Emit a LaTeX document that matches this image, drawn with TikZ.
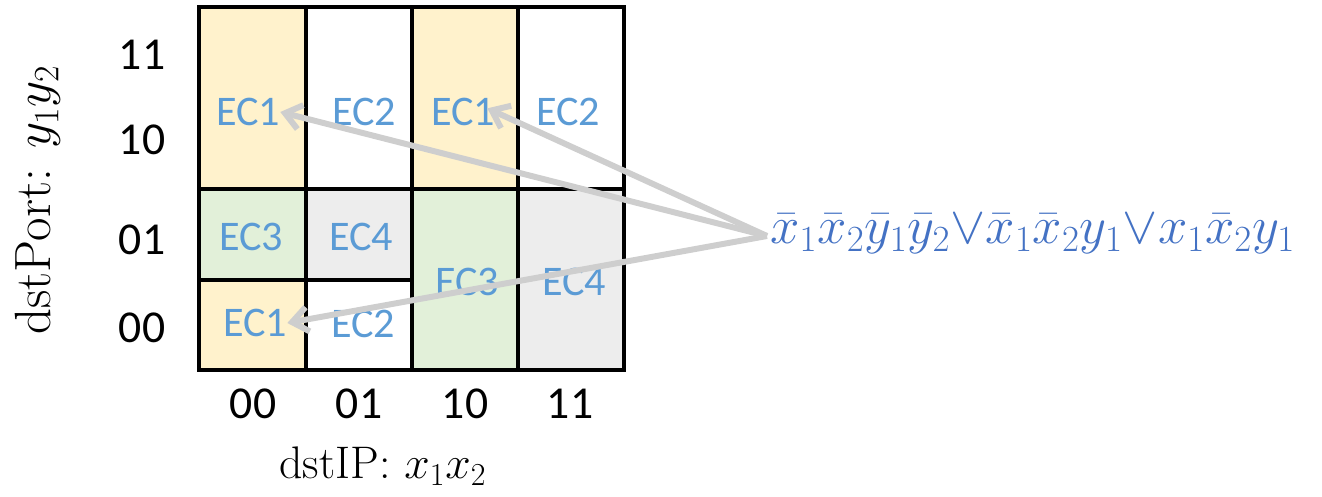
\documentclass[tikz,border=0pt]{standalone}
\usepackage{fix-cm}
\usepackage{amsmath}
\usepackage{fontspec}
\usepackage{xcolor}
\usepackage{tikz}
\usetikzlibrary{arrows.meta}
\newfontfamily\calibri{Carlito}
\definecolor{ecyellow}{RGB}{255,242,204}
\definecolor{ecgreen}{RGB}{226,240,217}
\definecolor{ecgray}{RGB}{237,237,237}
\definecolor{ecblue}{RGB}{91,155,213}
\definecolor{fblue}{RGB}{68,114,196}
\definecolor{arrgray}{RGB}{206,206,206}

\begin{document}
\begin{tikzpicture}[
    x=0.02cm, y=-0.02cm,
    cell/.style={draw, line width=1.9pt},
    ec/.style={font=\calibri\fontsize{24}{28}\selectfont, text=ecblue, inner sep=0pt},
    tick/.style={font=\calibri\fontsize{26}{30}\selectfont, inner sep=0pt},
    axis/.style={font=\fontsize{26}{30}\selectfont, inner sep=0pt},
    arrow/.style={-{Straight Barb[length=9pt, width=14pt]}, line width=3.4pt, draw=arrgray}
  ]
    \useasboundingbox (0,0) rectangle (1322,497);
    % cells of the map
    \draw[cell, fill=ecyellow] (199,7) rectangle (306,189);
    \draw[cell] (306,7) rectangle (412,189);
    \draw[cell, fill=ecyellow] (412,7) rectangle (518,189);
    \draw[cell] (518,7) rectangle (624,189);
    \draw[cell, fill=ecgreen] (199,189) rectangle (306,280);
    \draw[cell, fill=ecgray] (306,189) rectangle (412,280);
    \draw[cell, fill=ecyellow] (199,280) rectangle (306,370);
    \draw[cell] (306,280) rectangle (412,370);
    \draw[cell, fill=ecgreen] (412,189) rectangle (518,370);
    \draw[cell, fill=ecgray] (518,189) rectangle (624,370);

    \node[ec] (ec1a) at (248,112) {EC1};
    \node[ec] (ec2a) at (364,112) {EC2};
    \node[ec] (ec1b) at (463,112) {EC1};
    \node[ec] (ec2b) at (568,112) {EC2};
    \node[ec] (ec3a) at (251,237) {EC3};
    \node[ec] (ec4a) at (361,237) {EC4};
    \node[ec] (ec3b) at (467,282) {EC3};
    \node[ec] (ec4b) at (574,282) {EC4};
    \node[ec] (ec1c) at (255,323) {EC1};
    \node[ec] (ec2c) at (363,324) {EC2};

    % axis values
    \node[tick] (y11) at (142,55) {11};
    \node[tick] (y10) at (142,140) {10};
    \node[tick] (y01) at (142,240) {01};
    \node[tick] (y00) at (142,328) {00};
    \node[tick] (x00) at (253,404) {00};
    \node[tick] (x01) at (359,404) {01};
    \node[tick] (x10) at (465,404) {10};
    \node[tick] (x11) at (570,404) {11};

    \node[axis, rotate=90, font=\fontsize{29}{34}\selectfont] (port) at (38,200) {dstPort: $y_1y_2$};
    \node[axis] (ip) at (383,466) {dstIP: $x_1x_2$};

    \node[font=\fontsize{30}{36}\selectfont, text=fblue, inner sep=0pt, anchor=west] (expr) at (770,234)
      {$\bar{x}_1\bar{x}_2\bar{y}_1\bar{y}_2{\vee}\bar{x}_1\bar{x}_2y_1{\vee}x_1\bar{x}_2y_1$};
    \coordinate (src) at (767,236);

    \draw[arrow] (src) -- (ec1a.east);
    \draw[arrow, shorten >=-5pt] (src) -- (ec1b.east);
    \draw[arrow] (src) -- (ec1c.east);
  \end{tikzpicture}
\end{document}
